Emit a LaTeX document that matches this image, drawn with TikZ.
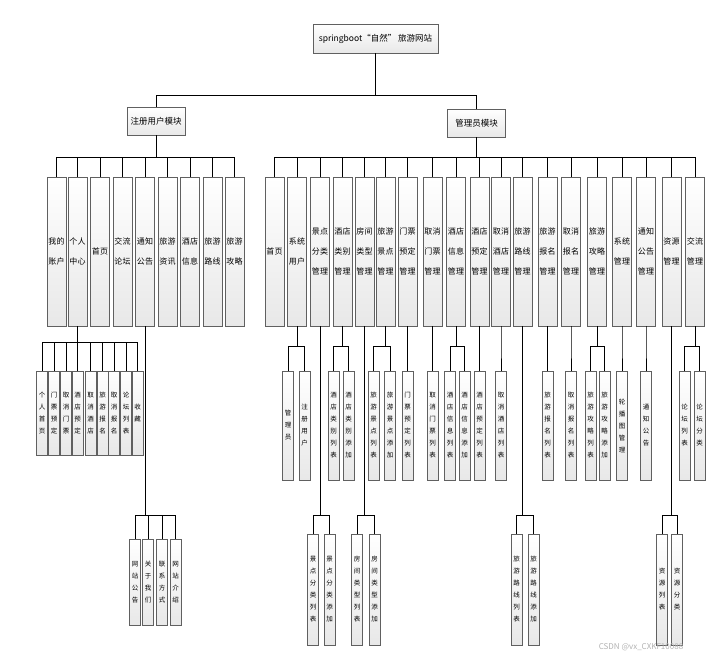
\documentclass[tikz,border=0pt]{standalone}
\usepackage{fontspec}
\setmainfont{Noto Sans CJK SC}
\XeTeXlinebreaklocale "zh"
\XeTeXlinebreakskip=0pt plus 1pt
\usetikzlibrary{positioning}

\tikzset{
  box/.style={draw=gray!75!black, line width=0.8pt, top color=white, bottom color=gray!18, inner sep=0pt, align=center},
  head/.style={box, minimum width=125pt, minimum height=29pt, font=\fontsize{8.5}{10}\selectfont},
  modul/.style={box, minimum width=58pt, minimum height=28pt, font=\fontsize{8.5}{10}\selectfont},
  cat/.style={box, minimum width=19pt, minimum height=149pt, text width=16.5pt, font=\fontsize{8}{20}\selectfont},
  leaf/.style={box, minimum width=11pt, text width=7pt, font=\fontsize{6.5}{12}\selectfont},
  link/.style={line width=0.8pt},
}

\begin{document}
\begin{tikzpicture}[x=1pt, y=-1pt]
\useasboundingbox (0,0) rectangle (718,659);
% top levels
\node[head] (site) at (375.5,38.5) {springboot“自然” 旅游网站};
\node[modul] (reg) at (156,121) {注册用户模块};
\node[modul] (adm) at (476.5,123) {管理员模块};
\draw[link] (site.south) -- ++(0,42) -| (reg.north);
\draw[link] (site.south) -- ++(0,42) -| (adm.north);
% registered user
\foreach \x/\t [count=\i] in {56.5/我的账户, 77.5/个人中心, 100/首页, 122.5/交流论坛, 145/通知公告, 167.5/旅游资讯, 190/酒店信息, 212.5/旅游路线, 234.5/旅游攻略} {
  \node[cat] (r\i) at (\x,251.5) {\t};
  \draw[link] (reg.south) -- ++(0,22) -| (r\i.north);
}
\foreach \x/\t [count=\i] in {42/个人首页, 54/门票预定, 66/取消门票, 77.5/酒店预定, 90.5/取消酒店, 102.5/旅游报名, 114/取消报名, 126/论坛列表, 137.5/收藏} {
  \node[leaf, minimum height=84pt] (p\i) at (\x,413) {\t};
  \draw[link] (r2.south) -- ++(0,16) -| (p\i.north);
}
\foreach \x/\t [count=\i] in {135/网站公告, 148/关于我们, 162/联系方式, 175.5/网站介绍} {
  \node[leaf, minimum height=86pt] (q\i) at (\x,582) {\t};
  \draw[link] (r5.south) -- ++(0,189) -| (q\i.north);
}
% administrator
\foreach \x/\t [count=\i] in {274.5/首页, 297/系统用户, 320/景点分类管理, 342.5/酒店类别管理, 364.5/房间类型管理, 385.5/旅游景点管理, 407.5/门票预定管理, 432.5/取消门票管理, 456/酒店信息管理, 479.5/酒店预定管理, 501/取消酒店管理, 522.5/旅游路线管理, 547.5/旅游报名管理, 571/取消报名管理, 597/旅游攻略管理, 622/系统管理, 646/通知公告管理, 671.5/资源管理, 695/交流管理} {
  \node[cat] (a\i) at (\x,251.5) {\t};
  \draw[link] (adm.south) -- ++(0,20) -| (a\i.north);
}
\foreach \p/\x/\t [count=\i] in {a2/288/管理员, a2/304.5/注册用户, a4/333.5/酒店类别列表, a4/348.5/酒店类别添加, a6/373.5/旅游景点列表, a6/390/旅游景点添加, a7/407.5/门票预定列表, a8/432.5/取消门票列表, a9/450/酒店信息列表, a9/464.5/酒店信息添加, a10/479.5/酒店预定列表, a11/501/取消酒店列表, a13/547.5/旅游报名列表, a14/571/取消报名列表, a15/590.5/旅游攻略列表, a15/604.5/旅游攻略添加, a16/622/轮播图管理, a17/646/通知公告, a19/684.5/论坛列表, a19/699.5/论坛分类} {
  \node[leaf, minimum height=109pt] (m\i) at (\x,425.5) {\t};
  \draw[link] (\p.south) -- ++(0,20) -| (m\i.north);
}
\foreach \p/\x/\t [count=\i] in {a3/313/景点分类列表, a3/329.5/景点分类添加, a5/357/房间类型列表, a5/374.5/房间类型添加, a12/516.5/旅游路线列表, a12/533.5/旅游路线添加, a18/662/资源列表, a18/677/资源分类} {
  \node[leaf, minimum height=111pt] (n\i) at (\x,589.5) {\t};
  \draw[link] (\p.south) -- ++(0,189) -| (n\i.north);
}
\node[text=gray!60, font=\fontsize{8}{9}\selectfont] (wm) at (641,647) {CSDN @vx\_CXKF10088};
\end{tikzpicture}
\end{document}
